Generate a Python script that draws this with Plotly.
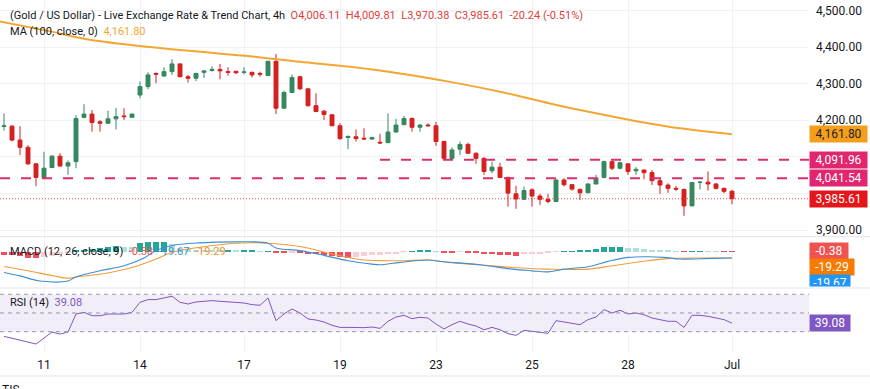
import plotly.graph_objects as go

# ---------------- data ----------------
idx = list(range(92))
opens = [4183, 4184, 4146, 4126, 4081, 4044, 4071, 4102, 4075, 4087,
         4208, 4217, 4196, 4192, 4204, 4212, 4208, 4269, 4292, 4328,
         4321, 4333, 4354, 4319, 4315, 4331, 4336, 4339, 4333, 4334,
         4331, 4331, 4328, 4322, 4361, 4233, 4276, 4319, 4286, 4240,
         4225, 4215, 4185, 4153, 4155, 4151, 4149, 4140, 4139, 4168,
         4188, 4205, 4181, 4187, 4185, 4142, 4096, 4121, 4134, 4110,
         4096, 4062, 4072, 4044, 3999, 3984, 4010, 3993, 3984, 3978,
         4037, 4024, 4011, 4002, 4026, 4044, 4087, 4069, 4081, 4062,
         4064, 4057, 4035, 4023, 4014, 4011, 3966, 4030, 4031, 4026,
         4014, 4006.11]
highs = [4219, 4187, 4184, 4132, 4082, 4114, 4105, 4110, 4090, 4214,
         4244, 4228, 4201, 4226, 4234, 4233, 4218, 4306, 4331, 4331,
         4345, 4367, 4356, 4324, 4330, 4337, 4347, 4354, 4345, 4335,
         4345, 4333, 4333, 4363, 4381, 4281, 4325, 4321, 4287, 4274,
         4228, 4217, 4192, 4158, 4175, 4178, 4155, 4163, 4219, 4204,
         4212, 4208, 4190, 4192, 4196, 4144, 4126, 4142, 4139, 4112,
         4099, 4087, 4084, 4046, 4021, 4019, 4014, 3999, 3999, 4039,
         4042, 4026, 4014, 4028, 4051, 4090, 4090, 4087, 4082, 4072,
         4066, 4064, 4044, 4028, 4021, 4014, 4031, 4034, 4060, 4028,
         4016, 4009.81]
lows = [4172, 4142, 4105, 4078, 4020, 4041, 4069, 4073, 4051, 4069,
        4205, 4169, 4169, 4190, 4175, 4201, 4207, 4260, 4285, 4301,
        4319, 4324, 4317, 4303, 4307, 4316, 4333, 4312, 4322, 4326,
        4326, 4317, 4319, 4321, 4217, 4231, 4274, 4283, 4237, 4222,
        4201, 4184, 4146, 4121, 4142, 4146, 4146, 4136, 4137, 4166,
        4187, 4169, 4169, 4183, 4130, 4094, 4094, 4105, 4108, 4081,
        4051, 4055, 4042, 3964, 3958, 3982, 3964, 3969, 3973, 3976,
        4019, 4008, 3982, 4001, 4025, 4041, 4064, 4066, 4051, 4051,
        4039, 4023, 3999, 4002, 4007, 3939, 3966, 4011, 4008, 4011,
        4001, 3970.38]
closes = [4185, 4146, 4126, 4081, 4044, 4069, 4102, 4075, 4084, 4205,
          4217, 4194, 4192, 4204, 4210, 4210, 4217, 4292, 4324, 4326,
          4333, 4354, 4319, 4315, 4328, 4335, 4339, 4335, 4331, 4330,
          4332, 4324, 4326, 4361, 4233, 4276, 4317, 4286, 4240, 4224,
          4216, 4185, 4150, 4156, 4150, 4149, 4153, 4138, 4168, 4187,
          4205, 4181, 4187, 4185, 4142, 4096, 4119, 4134, 4110, 4096,
          4060, 4072, 4044, 4001, 3985, 4008, 3993, 3984, 3978, 4037,
          4024, 4012, 4002, 4026, 4041, 4087, 4069, 4084, 4060, 4066,
          4057, 4035, 4023, 4014, 4012, 3966, 4030, 4031, 4026, 4014,
          4005.85, 3985.61]

ma_idx = [-0.5, 5.75, 10.75, 18.25, 24.5, 30.75, 37, 43.25, 49.5, 55.75, 62, 68.25, 72, 78.25, 84.5, 91]
ma_val = [4470, 4443, 4420, 4400, 4387, 4375, 4360, 4346, 4328, 4305, 4278, 4246, 4228, 4201, 4178, 4161.80]

level_hi = 4091.96
level_hi_start = 47
level_lo = 4041.54

macd_idx = [0, 2, 4.5, 8, 9, 12, 15, 17.5, 19, 21, 24.5, 29, 33, 34, 37, 40, 43, 46, 47, 49.5, 53, 55,
            59.5, 63.5, 66, 68, 70, 73, 75.5, 78, 80.5, 82.5, 84.5, 88.5, 91]
macd_val = [-61.7, -71.5, -86.2, -86.2, -74.5, -56.8, -42.1, -19.6, 2, 16.7, 24.5, 27.4, 23.5, 9.8, 2,
            -11.8, -27.4, -37.2, -39.2, -32.3, -25.5, -30.4, -39.2, -51.9, -56.8, -59.8, -51.9, -45.1,
            -29.4, -17.6, -15.7, -17.6, -22.5, -20.6, -19.67]
sig_idx = [0, 3, 6, 8, 9, 12, 16, 19, 21, 24.5, 29, 33, 37, 41, 45, 47, 50, 53, 55.5, 59.5, 63.5, 68,
           73, 76, 80.5, 83.5, 88.5, 91]
sig_val = [-44.1, -56.8, -70.6, -78.4, -74.5, -66.6, -47, -22.5, -2.9, 11.8, 23.5, 23.5, 13.7, -7.8,
           -25.5, -27, -27.5, -25.5, -32.3, -39.2, -47, -51.9, -51.9, -42.1, -27.4, -20.6, -19.6, -19.29]
hist = [-9, -10, -14, -18, -20, -16, -12, -8, -4, 2,
        5, 8, 10, 12, 15, 14, 12, 24, 27, 28,
        28, 22, 9, 7, 6, 5, 4, 3, 3, 2,
        2, 2, 1, 1, -4, -5, -4, -4, -7, -8,
        -10, -12, -16, -20, -15, -12, -10, -9, -7, -6,
        -1, 1, 3, 3, 1, -3, -3, -1, -4, -5,
        -7, -8, -9, -11, -12, -8, -7, -6, -5, -1,
        1, 1.5, 2, 5, 7, 12, 14, 14, 11, 10,
        8, 6, 4, 2, 1, -1, 1, 1.5, 1, 0.5,
        -0.2, -0.38]

rsi = [25.0, 23.2, 21.1, 18.9, 16.8, 23.2, 29.6, 27.5, 29.6, 48.9,
       50.7, 47.1, 47.1, 48.9, 49.3, 48.9, 50.7, 61.4, 64.3, 64.3,
       66.1, 67.9, 61.4, 59.6, 61.8, 62.5, 63.2, 62.5, 61.8, 61.4,
       60.7, 58.9, 58.2, 66.1, 41.8, 48.9, 54.3, 50.0, 43.6, 42.5,
       40.4, 36.8, 34.6, 34.6, 34.3, 34.3, 35.0, 33.6, 41.1, 45.7,
       47.5, 43.9, 45.4, 44.6, 38.2, 32.9, 37.5, 41.1, 38.2, 36.1,
       32.1, 34.6, 32.1, 27.9, 26.1, 31.4, 30.4, 29.6, 28.2, 41.8,
       40.4, 38.9, 37.5, 42.9, 45.7, 53.6, 50.0, 52.9, 48.9, 50.0,
       48.2, 44.6, 42.9, 41.1, 41.1, 34.6, 47.5, 47.5, 46.4, 44.6,
       42.9, 39.08]

x_tick_idx = [5, 17, 30, 42, 54, 66, 78, 91]
x_tick_text = ["11", "14", "17", "19", "23", "25", "28", "Jul"]
price_ticks = [3900, 4000, 4100, 4200, 4300, 4400, 4500]
hidden_price_ticks = [4000, 4100]   # covered by the value boxes in the original

for arr in (opens, highs, lows, closes, hist, rsi):
    assert len(arr) == len(idx), len(arr)

# ---------------- style ----------------
W, H = 870, 389
PLOT_W = 809
FONT = "Roboto"
TXT = "#131722"
UP = "#34875f"
DN = "#d32020"
MA_C = "#f2a735"
LVL_C = "#db2f6b"
GRID = "#f0f2f6"

def py(p):
    return 1 - p / H

x_range = [-0.5, -0.5 + PLOT_W / 8.0]

def fmt(v):
    return f"{v:,.2f}"

fig = go.Figure()

fig.add_trace(go.Candlestick(
    x=idx, open=opens, high=highs, low=lows, close=closes,
    increasing=dict(line=dict(color=UP, width=1), fillcolor=UP),
    decreasing=dict(line=dict(color=DN, width=1), fillcolor=DN),
    whiskerwidth=0, xaxis="x", yaxis="y", showlegend=False, hoverinfo="skip"))

fig.add_trace(go.Scatter(x=ma_idx, y=ma_val, mode="lines", line=dict(color=MA_C, width=2, shape="spline"),
                         xaxis="x", yaxis="y", showlegend=False, hoverinfo="skip"))

hcol = []
for k, v in enumerate(hist):
    prev = hist[k - 1] if k > 0 else v
    if v >= 0:
        hcol.append("#26a69a" if v >= prev else "#b2dfdb")
    else:
        hcol.append("#f0505e" if v <= prev else "#fbcdd3")

fig.add_trace(go.Bar(x=idx, y=hist, marker=dict(color=hcol, line=dict(width=0)), width=0.72,
                     xaxis="x", yaxis="y2", showlegend=False, hoverinfo="skip"))
fig.add_trace(go.Scatter(x=sig_idx, y=sig_val, mode="lines", line=dict(color="#f59a3b", width=1.1, shape="spline"),
                         xaxis="x", yaxis="y2", showlegend=False, hoverinfo="skip"))
fig.add_trace(go.Scatter(x=macd_idx, y=macd_val, mode="lines", line=dict(color="#3d8fd6", width=1.1, shape="spline"),
                         xaxis="x", yaxis="y2", showlegend=False, hoverinfo="skip"))

fig.add_trace(go.Scatter(x=idx, y=rsi, mode="lines", line=dict(color="#7e57c2", width=1),
                         xaxis="x", yaxis="y3", showlegend=False, hoverinfo="skip"))

shapes = []
shapes.append(dict(type="rect", xref="paper", yref="y3", x0=0, x1=1, y0=30, y1=70,
                   fillcolor="rgba(126,87,194,0.10)", line=dict(width=0), layer="below"))
for lv in (70, 50, 30):
    shapes.append(dict(type="line", xref="paper", yref="y3", x0=0, x1=1, y0=lv, y1=lv,
                       line=dict(color="#9598a1", width=1, dash="4px,4px")))
shapes.append(dict(type="line", xref="x", yref="y", x0=level_hi_start, x1=x_range[1], y0=level_hi, y1=level_hi,
                   line=dict(color=LVL_C, width=2, dash="10px,11px")))
shapes.append(dict(type="line", xref="paper", yref="y", x0=0, x1=1, y0=level_lo, y1=level_lo,
                   line=dict(color=LVL_C, width=2, dash="10px,11px")))
shapes.append(dict(type="line", xref="paper", yref="y", x0=0, x1=1, y0=closes[-1], y1=closes[-1],
                   line=dict(color="#e8453c", width=1, dash="1px,2px")))
for p in (236.7, 288.0, 376.0):
    shapes.append(dict(type="line", xref="paper", yref="paper", x0=0, x1=1.2, y0=py(p), y1=py(p),
                       line=dict(color="#e0e3eb", width=1)))

ann = []
chg = closes[-1] - closes[-2]
pct = chg / closes[-2] * 100
red = "#e0403a"
nb = "&nbsp;"
line1 = ("(Gold / US Dollar) - Live Exchange Rate &amp; Trend Chart, 4h" + nb * 2 +
         f"<span style='color:{red}'>O{fmt(opens[-1])}{nb*2}H{fmt(highs[-1])}{nb*2}L{fmt(lows[-1])}"
         f"{nb*2}C{fmt(closes[-1])}{nb*2}{chg:.2f} ({pct:.2f}%)</span>")
line2 = f"MA (100, close, 0){nb*2}<span style='color:{MA_C}'>{fmt(ma_val[-1])}</span>"
ann.append(dict(xref="paper", yref="paper", x=8 / PLOT_W, y=py(15), xanchor="left", yanchor="middle",
                text=line1, showarrow=False, font=dict(family=FONT, size=11, color=TXT)))
ann.append(dict(xref="paper", yref="paper", x=8 / PLOT_W, y=py(31), xanchor="left", yanchor="middle",
                text=line2, showarrow=False, font=dict(family=FONT, size=11, color=TXT)))
macd_lbl = (f"MACD (12, 26, close, 9){nb*2}<span style='color:#ef5350'>{hist[-1]:.2f}</span>{nb*2}"
            f"<span style='color:#3d8fd6'>{macd_val[-1]:.2f}</span>{nb*2}"
            f"<span style='color:#f0901f'>{sig_val[-1]:.2f}</span>")
ann.append(dict(xref="paper", yref="paper", x=8 / PLOT_W, y=py(251), xanchor="left", yanchor="middle",
                text=macd_lbl, showarrow=False, font=dict(family=FONT, size=11, color=TXT)))
rsi_lbl = f"RSI (14){nb*2}<span style='color:#7e57c2'>{rsi[-1]:.2f}</span>"
ann.append(dict(xref="paper", yref="paper", x=8 / PLOT_W, y=py(302), xanchor="left", yanchor="middle",
                text=rsi_lbl, showarrow=False, font=dict(family=FONT, size=11, color=TXT)))

def box(text, yref, y, bg, fg="white", width=55, yshift=0, height=14, valign="middle"):
    ann.append(dict(xref="paper", x=1, xanchor="left", yref=yref, y=y, yanchor="middle", yshift=yshift,
                    text=text, showarrow=False, bgcolor=bg, borderpad=1, width=width, height=height,
                    valign=valign, align="center", font=dict(family=FONT, size=12, color=fg)))

box(fmt(ma_val[-1]), "y", ma_val[-1], "#f59e1b", fg="#1e1e1e")
box(fmt(level_hi), "y", level_hi, "#e0266e")
box(fmt(level_lo), "y", level_lo, "#e0266e")
box(fmt(closes[-1]), "y", closes[-1], "#e5161b")
box(f"{hist[-1]:.2f}", "y2", hist[-1], "#ef5350", width=36)
box(f"{sig_val[-1]:.2f}", "y2", hist[-1], "#f57c00", width=42, yshift=-16)
box(f"{macd_val[-1]:.2f}", "y2", hist[-1], "#2196f3", width=38, yshift=-29, height=9, valign="top")
box(f"{rsi[-1]:.2f}", "y3", rsi[-1], "#7e57c2", width=38)

ann.append(dict(xref="paper", yref="paper", x=0, y=py(381), xanchor="left", yanchor="top",
                text="TIS", showarrow=False, font=dict(family=FONT, size=12, color=TXT)))

fig.update_layout(
    width=W, height=H, margin=dict(l=0, r=W - PLOT_W, t=0, b=0),
    paper_bgcolor="white", plot_bgcolor="white", showlegend=False, bargap=0,
    font=dict(family=FONT, color=TXT, size=12),
    xaxis=dict(range=x_range, anchor="y3", tickmode="array", tickvals=x_tick_idx, ticktext=x_tick_text,
               showgrid=True, gridcolor=GRID, zeroline=False, showline=False, ticks="",
               rangeslider=dict(visible=False), tickfont=dict(size=12, color=TXT), ticklabelstandoff=4),
    yaxis=dict(domain=[py(236.7), 1], range=[3881.9, 4528.7], side="right", tickmode="array",
               tickvals=price_ticks,
               ticktext=["" if v in hidden_price_ticks else fmt(v) for v in price_ticks],
               showgrid=True, gridcolor=GRID,
               zeroline=False, showline=False, ticks="", ticklabelstandoff=6,
               tickfont=dict(size=12, color=TXT)),
    yaxis2=dict(domain=[py(288), py(236.7)], range=[-106.7, 42.4], side="right", showticklabels=False,
                showgrid=False, zeroline=False, showline=False),
    yaxis3=dict(domain=[py(352), py(288)], range=[8.3, 76.7], side="right", showticklabels=False,
                showgrid=False, zeroline=False, showline=False),
    shapes=shapes, annotations=ann,
)

fig.write_html("out.html")
